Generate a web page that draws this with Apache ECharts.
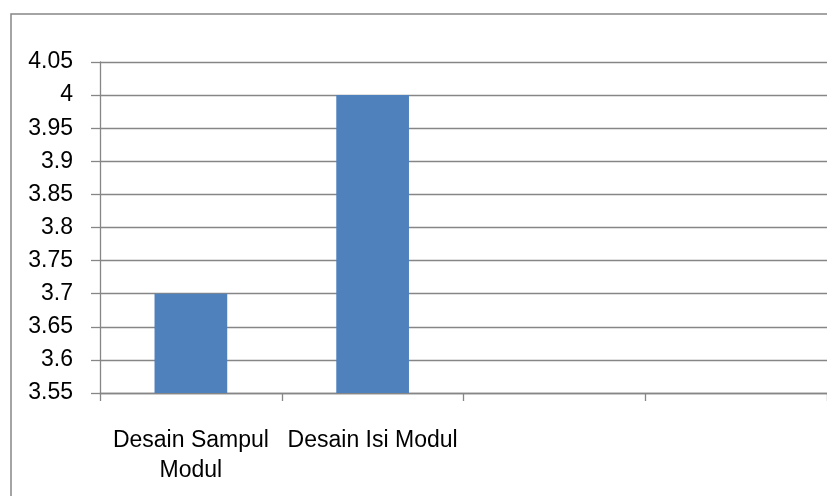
<!DOCTYPE html>
<html>
<head>
<meta charset="utf-8">
<script src="https://cdn.jsdelivr.net/npm/echarts@6/dist/echarts.min.js"></script>
<style>
html,body{margin:0;padding:0;background:#fff;}
#c{width:827px;height:496px;}
</style>
</head>
<body>
<div id="c"></div>
<script>
const categories = ['Desain Sampul Modul', 'Desain Isi Modul', '', ''];
const values = [3.7, 4.0, null, null];
const yMin = 3.55, yMax = 4.05, yStep = 0.05;

const chart = echarts.init(document.getElementById('c'), null, {renderer: 'canvas'});
const font = '"Liberation Sans", Arial, sans-serif';
const gray = '#868686';
chart.setOption({
  animation: false,
  backgroundColor: '#fff',
  graphic: [{
    type: 'rect',
    shape: {x: 11, y: 14, width: 1000, height: 1000},
    style: {fill: 'none', stroke: gray, lineWidth: 1.5},
    silent: true,
    z: -1
  }],
  grid: {left: 100, top: 62, width: 728, height: 331, containLabel: false},
  xAxis: {
    type: 'category',
    data: categories,
    axisLine: {show: true, lineStyle: {color: gray, width: 1.3}},
    axisTick: {show: true, length: 8, lineStyle: {color: gray, width: 1.3}},
    axisLabel: {
      margin: 33,
      interval: 0,
      color: '#000',
      fontFamily: font,
      fontSize: 23,
      lineHeight: 30,
      formatter: v => v === 'Desain Sampul Modul' ? 'Desain Sampul\nModul' : v
    },
    splitLine: {show: false}
  },
  yAxis: {
    type: 'value',
    min: yMin, max: yMax, interval: yStep,
    axisLine: {show: true, lineStyle: {color: gray, width: 1.3}},
    axisTick: {show: true, length: 9, lineStyle: {color: gray, width: 1.3}},
    axisLabel: {
      margin: 27,
      color: '#000',
      fontFamily: font,
      fontSize: 23,
      formatter: v => String(parseFloat(v.toFixed(2)))
    },
    splitLine: {show: true, lineStyle: {color: gray, width: 1.3}}
  },
  series: [{
    type: 'bar',
    data: values,
    barWidth: '40%',
    itemStyle: {color: '#4F81BD'}
  }]
});
</script>
</body>
</html>
